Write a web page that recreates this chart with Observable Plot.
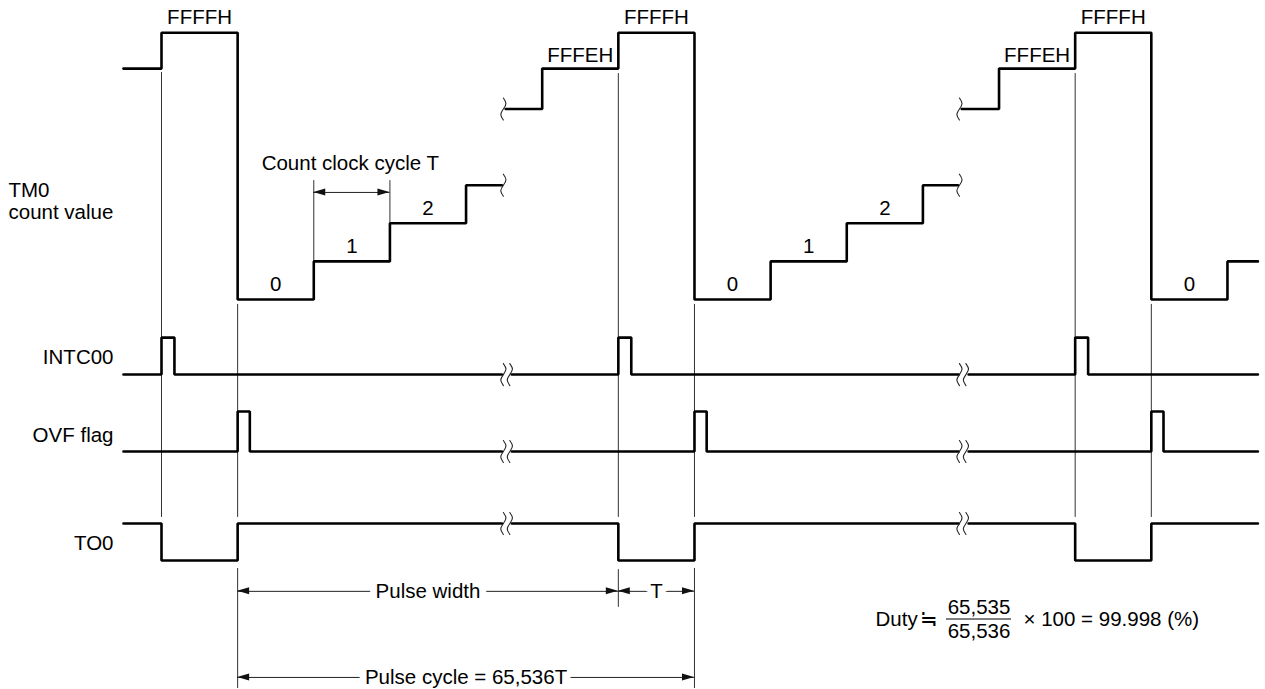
<!DOCTYPE html>
<html><head><meta charset="utf-8">
<script src="https://cdn.jsdelivr.net/npm/d3@7"></script>
<script src="https://cdn.jsdelivr.net/npm/@observablehq/plot@0.6"></script>
<style>html,body{margin:0;padding:0;background:#fff;} #chart svg{display:block}</style>
</head><body><div id="chart"></div>
<script>
// Time axis in units of the count clock cycle T (0 = first FFFFH edge); TM0 in count steps.
const tm0Segments = [
  [[-0.5,6.06],[0,7],[1,0],[2,1],[3,2],[4,3],[4.47,3]],
  [[4.52,5],[5,6.06],[6,7],[7,0],[8,1],[9,2],[10,3],[10.46,3]],
  [[10.51,5],[11,6.06],[12,7],[13,0],[14,1],[14.4,1]]
];
const countLabels = ["FFFFH","0","1","2","FFFEH","FFFFH","0","1","2","FFFEH","FFFFH","0"];
const countLabelT = [0.5,1.5,2.5,3.5,5.5,6.5,7.5,8.5,9.5,11.5,12.5,13.5];
const countLabelLevel = [7,0,1,2,6,7,0,1,2,6,7,0];

// Logic signals: [t, logic level] vertices, split at the two time-axis breaks
const intcWave = [
  [[-0.5,0],[0,1],[0.17,0],[4.47,0]],
  [[4.6,0],[6,1],[6.17,0],[10.47,0]],
  [[10.6,0],[12,1],[12.17,0],[14.4,0]]
];
const ovfWave = [
  [[-0.5,0],[1,1],[1.16,0],[4.47,0]],
  [[4.6,0],[7,1],[7.16,0],[10.47,0]],
  [[10.6,0],[13,1],[13.16,0],[14.4,0]]
];
const to0Wave = [
  [[-0.5,1],[0,0],[1,1],[4.47,1]],
  [[4.6,1],[6,0],[7,1],[10.47,1]],
  [[10.6,1],[12,0],[13,1],[14.4,1]]
];
const signalNames = ["INTC00","OVF flag","TO0"];
const signalLow = [-1.97,-3.99,-6.85];
const signalHigh = [-1.0,-2.94,-5.88];
const signalNameLevel = [-1.52,-3.57,-6.40];

const breakT = [4.49, 10.48];
const tm0BreakLevels = [3,5];

// Thin timing guides: time, top level, bottom level
const guideT  = [0, 1, 1, 6, 6, 7, 7, 12, 13, 2, 3];
const guideV1 = [5.96, -0.13, -7.06, 5.93, -7.09, -0.13, -7.06, 5.93, -0.13, 3.12, 3.12];
const guideV2 = [-5.72, -5.72, -10.21, -5.72, -8.08, -5.72, -10.21, -5.72, -5.72, 1, 2];

// Dimension arrows
const dimT1 = [2, 1, 6, 1];
const dimT2 = [3, 6, 7, 7];
const dimLevel = [2.81, -7.66, -7.66, -9.92];
const dimLabels = ["Pulse width", "T", "Pulse cycle = 65,536T"];
const dimLabelT = [3.5, 6.5, 4];
const dimLabelLevel = [-7.66, -7.66, -9.92];

const clockLabel = "Count clock cycle T";
const tm0Names = ["TM0", "count value"];
const tm0NameLevel = [2.86, 2.28];
const dutyParts = ["Duty", "≒", "65,535", "65,536", "× 100 = 99.998 (%)"];

// ---- scale geometry (pixels per unit) ----
const W = 1265, H = 689;
const pxT = 76.14, x0 = 161;   // pixel of t = 0
const pxV = 38.1, y0 = 299;    // pixel of level 0
const xDomain = [-x0 / pxT, (W - x0) / pxT];
const yDomain = [(y0 - H) / pxV, y0 / pxV];

const font = "Liberation Sans, Arial, Helvetica, sans-serif";
const fs = 20.5;

// build drawable tables from the arrays
const tm0Pts = tm0Segments.flatMap((seg, i) => seg.map(([t, v]) => ({t, v, id: "tm0-" + i})));
const waves = [intcWave, ovfWave, to0Wave];
const levelOf = (r, l) => l ? signalHigh[r] : signalLow[r];
const sigPts = waves.flatMap((w, r) => w.flatMap((seg, i) => seg.map(([t, l]) => ({
  t, v: levelOf(r, l), id: `s${r}-${i}`
}))));

// tilde glyph (pixel offsets, y down) used for break marks
const tildeShape = [[0,-11],[2.6,-5.5],[0,0],[-2.6,5.5],[0,11]];
const tildes = [];
breakT.forEach((b, bi) => {
  tm0BreakLevels.forEach((lv, li) => tildes.push({t: b, v: lv, id: `tm-${bi}-${li}`}));
  waves.forEach((w, r) => {
    const seg = w[bi];
    const lv = levelOf(r, seg[seg.length - 1][1]);
    tildes.push({t: b, v: lv, id: `sa-${bi}-${r}`});
    tildes.push({t: b + 0.085, v: lv, id: `sb-${bi}-${r}`});
  });
});
const tildePts = tildes.flatMap(d => tildeShape.map(([dx, dy]) => ({t: d.t + dx / pxT, v: d.v - dy / pxV, id: d.id})));

const guides = guideT.map((t, i) => ({t, v1: guideV1[i], v2: guideV2[i]}));
const dims = dimT1.map((t1, i) => ({t1, t2: dimT2[i], v: dimLevel[i]}));
const headLen = 12 / pxT, headHalf = 3.5 / pxV;
const heads = dims.flatMap((d, i) => [
  {id: `h${i}a`, t: d.t1, lo: d.v, hi: d.v}, {id: `h${i}a`, t: d.t1 + headLen, lo: d.v - headHalf, hi: d.v + headHalf},
  {id: `h${i}b`, t: d.t2, lo: d.v, hi: d.v}, {id: `h${i}b`, t: d.t2 - headLen, lo: d.v - headHalf, hi: d.v + headHalf}
]);

const labels = countLabels.map((s, i) => ({s, t: countLabelT[i], v: countLabelLevel[i]}));
const sigLabels = signalNames.map((s, i) => ({s, v: signalNameLevel[i]}));
const dimText = dimLabels.map((s, i) => ({s, t: dimLabelT[i], v: dimLabelLevel[i]}));
const tm0Text = tm0Names.map((s, i) => ({s, v: tm0NameLevel[i]}));

const dutyT = (px) => (px - x0) / pxT;
const dutyV = (py) => (y0 - py) / pxV;

const chart = Plot.plot({
  width: W, height: H, margin: 0,
  style: {fontFamily: font, background: "white", color: "black"},
  x: {domain: xDomain, range: [0, W], axis: null},
  y: {domain: yDomain, range: [H, 0], axis: null},
  marks: [
    Plot.ruleX(guides, {x: "t", y1: "v1", y2: "v2", stroke: "#333", strokeWidth: 1}),
    Plot.ruleY(dims, {x1: "t1", x2: "t2", y: "v", stroke: "#222", strokeWidth: 1}),
    Plot.areaY(heads, {x: "t", y1: "lo", y2: "hi", z: "id", fill: "#111"}),
    Plot.line(tm0Pts, {x: "t", y: "v", z: "id", curve: "step-after", stroke: "black", strokeWidth: 2.6, strokeLinejoin: "miter"}),
    Plot.line(sigPts, {x: "t", y: "v", z: "id", curve: "step-after", stroke: "black", strokeWidth: 2.6, strokeLinejoin: "miter"}),
    Plot.line(tildePts, {x: "t", y: "v", z: "id", curve: "natural", stroke: "#222", strokeWidth: 1.1}),
    Plot.text(labels, {x: "t", y: "v", text: "s", dy: -15, fontSize: fs, fill: "black"}),
    Plot.text(tm0Text, {x: xDomain[0] + 8 / pxT, y: "v", text: "s", textAnchor: "start", fontSize: fs, fill: "black"}),
    Plot.text(sigLabels, {x: (-48) / pxT, y: "v", text: "s", textAnchor: "end", fontSize: fs, fill: "black"}),
    Plot.text([clockLabel], {x: 2.48, y: 3.57, text: d => d, fontSize: fs, fill: "black"}),
    Plot.text(dimText, {x: "t", y: "v", text: "s", fontSize: fs, fill: "black", stroke: "white", strokeWidth: 14}),
    Plot.text([dutyParts[0]], {x: dutyT(875), y: dutyV(618.5), text: d => d, textAnchor: "start", fontSize: fs, fill: "black"}),
    Plot.text([dutyParts[1]], {x: dutyT(928), y: dutyV(619), text: d => d, fontSize: fs, fill: "black"}),
    Plot.text([dutyParts[2]], {x: dutyT(978.5), y: dutyV(606.5), text: d => d, fontSize: fs, fill: "black"}),
    Plot.text([dutyParts[3]], {x: dutyT(978.5), y: dutyV(630.5), text: d => d, fontSize: fs, fill: "black"}),
    Plot.ruleY([dutyV(618.5)], {x1: dutyT(946), x2: dutyT(1011), stroke: "black", strokeWidth: 1}),
    Plot.text([dutyParts[4]], {x: dutyT(1023), y: dutyV(619), text: d => d, textAnchor: "start", fontSize: fs, fill: "black"})
  ]
});
document.getElementById("chart").append(chart);
</script>
</body></html>
